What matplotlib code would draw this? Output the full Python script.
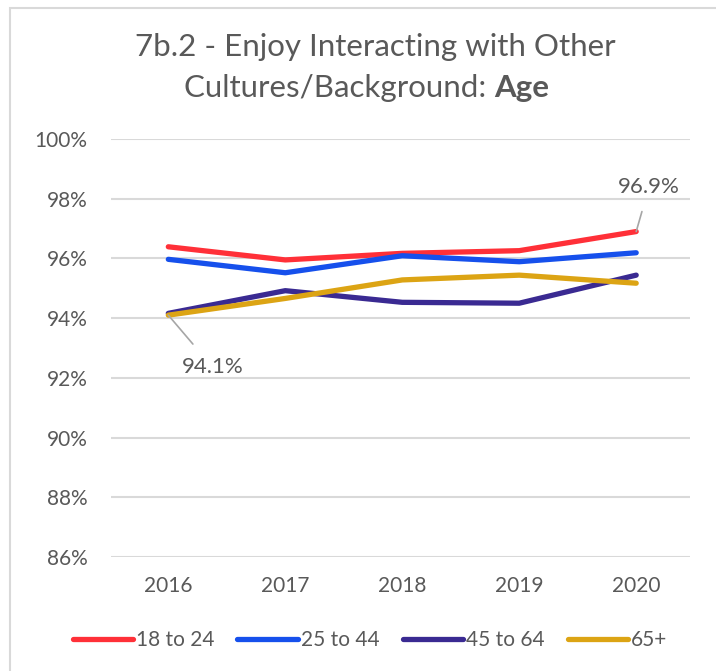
import matplotlib
matplotlib.use("Agg")
import matplotlib.pyplot as plt
from matplotlib.patches import Rectangle

years = ["2016", "2017", "2018", "2019", "2020"]
series_names = ["18 to 24", "25 to 44", "45 to 64", "65+"]
v_18_24 = [96.39, 95.95, 96.17, 96.26, 96.90]
v_25_44 = [95.97, 95.52, 96.09, 95.89, 96.19]
v_45_64 = [94.16, 94.92, 94.53, 94.50, 95.44]
v_65p = [94.10, 94.66, 95.28, 95.44, 95.17]
colors = ["#FF3038", "#1650EC", "#3A2A92", "#DCA414"]
yticks = [86, 88, 90, 92, 94, 96, 98, 100]

FONT = "Lato"
TXT = "#595959"

fig = plt.figure(figsize=(7.16, 6.71), dpi=100)
W, H = 716, 671
fig.patches.append(Rectangle((10 / W, -0.1), 1.2, (H - 8) / H + 0.1, transform=fig.transFigure,
                             fill=False, edgecolor="#D9D9D9", linewidth=1.5))

ax = fig.add_axes([111 / W, (H - 557) / H, (690 - 111) / W, (557 - 139) / H])
x = list(range(len(years)))
for vals, name, c in zip([v_18_24, v_25_44, v_45_64, v_65p], series_names, colors):
    ax.plot(x, vals, color=c, linewidth=3.8, label=name, solid_capstyle="round", zorder=3)

ax.set_xlim(-0.49, 4.46)
ax.set_ylim(86, 100)
ax.set_yticks(yticks)
ax.set_yticklabels([f"{t}%" for t in yticks], fontfamily=FONT, fontsize=15, color=TXT)
ax.set_xticks(x)
ax.set_xticklabels(years, fontfamily=FONT, fontsize=15, color=TXT)
ax.tick_params(length=0)
ax.tick_params(axis="x", pad=14)
ax.tick_params(axis="y", pad=17)
for s in ax.spines.values():
    s.set_visible(False)
ax.grid(axis="y", color="#D9D9D9", linewidth=1.5, zorder=0)
ax.set_axisbelow(True)

# data labels with leader lines
ax.annotate(f"{v_18_24[-1]:.1f}%", xy=(4, v_18_24[-1]), xytext=(4.11, 98.4),
            fontfamily=FONT, fontsize=16, color=TXT, ha="center", va="center",
            arrowprops=dict(arrowstyle="-", color="#A6A6A6", lw=1.2, shrinkA=9, shrinkB=0))
ax.annotate(f"{v_65p[0]:.1f}%", xy=(0, v_65p[0]), xytext=(0.38, 92.35),
            fontfamily=FONT, fontsize=16, color=TXT, ha="center", va="center",
            arrowprops=dict(arrowstyle="-", color="#A6A6A6", lw=1.2, shrinkA=10, shrinkB=0))

# title
fig.text(375 / W, 1 - 47 / H, "7b.2 - Enjoy Interacting with Other", ha="center", va="center",
         fontfamily=FONT, fontsize=22.5, color=TXT)
fig.canvas.draw()
r = fig.canvas.get_renderer()
t1 = fig.text(0, 1 - 88 / H, "Cultures/Background: ", ha="left", va="center",
              fontfamily=FONT, fontsize=22.5, color=TXT)
t2 = fig.text(0, 1 - 88 / H, "Age", ha="left", va="center",
              fontfamily=FONT, fontsize=22.5, color=TXT, fontweight="bold")
w1 = t1.get_window_extent(r).width
w2 = t2.get_window_extent(r).width
start = 367 - (w1 + w2) / 2
t1.set_x(start / W)
t2.set_x((start + w1) / W)

leg = fig.legend(loc="center", bbox_to_anchor=(370 / W, 1 - 640 / H), ncol=4, frameon=False,
                 prop={"family": FONT, "size": 15}, handlelength=2.9, handletextpad=0.15,
                 columnspacing=1.1, labelcolor=TXT)

fig.savefig("out.png", dpi=100)
